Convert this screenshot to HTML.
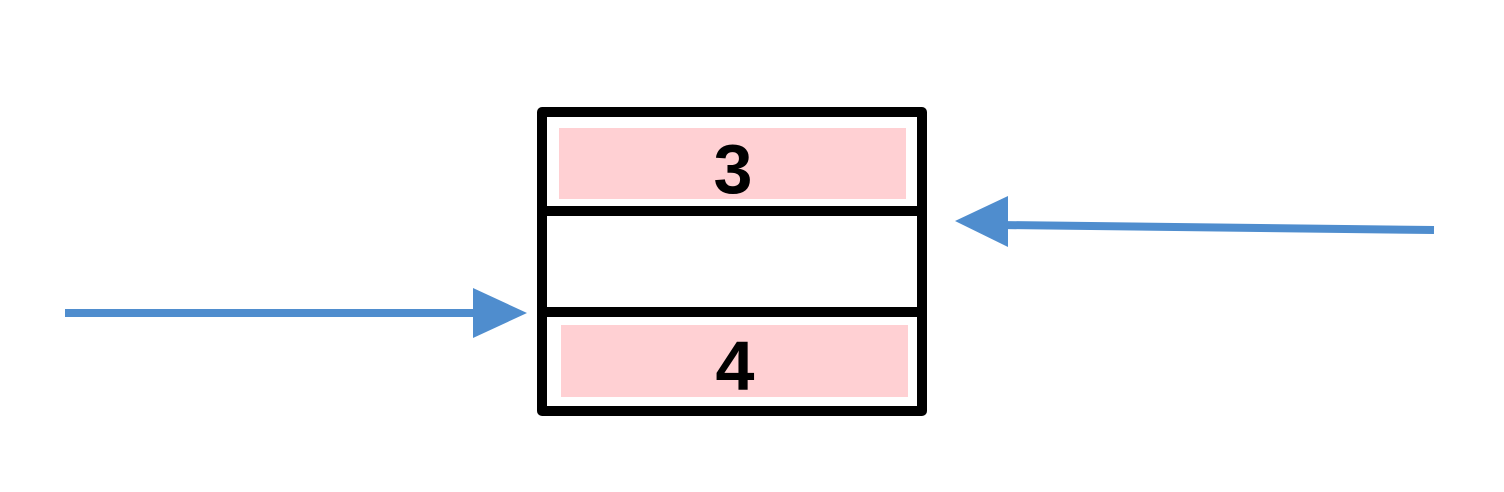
<!DOCTYPE html>
<html><head><meta charset="utf-8"><style>
html,body{margin:0;padding:0;background:#fff;}
svg{display:block;}
</style></head><body>
<svg width="1504" height="492" viewBox="0 0 1504 492" xmlns="http://www.w3.org/2000/svg">
<rect x="559" y="128" width="347" height="71" fill="#ffd0d3"/>
<rect x="561" y="325" width="347" height="72" fill="#ffd0d3"/>
<rect x="542" y="112" width="380" height="299" fill="none" stroke="#000" stroke-width="10" stroke-linejoin="round"/>
<line x1="542" y1="211" x2="922" y2="211" stroke="#000" stroke-width="10"/>
<line x1="542" y1="312" x2="922" y2="312" stroke="#000" stroke-width="10"/>
<text x="733" y="193" text-anchor="middle" font-family="Liberation Sans, sans-serif" font-weight="bold" font-size="70" fill="#000">3</text>
<text x="735" y="390" text-anchor="middle" font-family="Liberation Sans, sans-serif" font-weight="bold" font-size="70" fill="#000">4</text>
<line x1="65" y1="313" x2="480" y2="313" stroke="#4f8dce" stroke-width="8"/>
<polygon points="473,288 527,313 473,338" fill="#4f8dce"/>
<line x1="1000" y1="225" x2="1434" y2="230" stroke="#4f8dce" stroke-width="8"/>
<polygon points="1008,196 955,221 1008,247" fill="#4f8dce"/>
</svg>
</body></html>
